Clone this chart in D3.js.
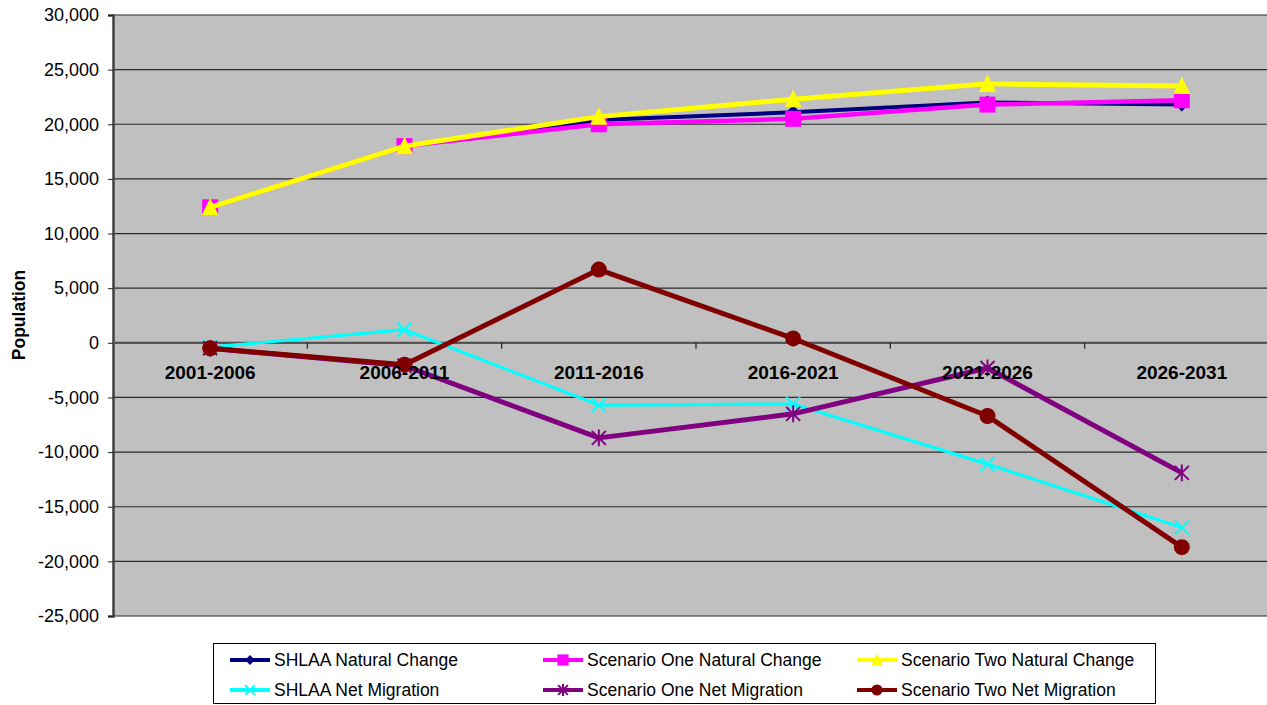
<!DOCTYPE html>
<html>
<head>
<meta charset="utf-8">
<script src="https://cdn.jsdelivr.net/npm/d3@7"></script>
<style>
  body { margin: 0; background: #fff; }
  svg { display: block; font-family: "Liberation Sans", Arial, sans-serif; }
</style>
</head>
<body>
<svg id="chart" width="1267" height="705"></svg>
<script>
const categories = ["2001-2006", "2006-2011", "2011-2016", "2016-2021", "2021-2026", "2026-2031"];
const yTicks = [30000, 25000, 20000, 15000, 10000, 5000, 0, -5000, -10000, -15000, -20000, -25000];

const shlaaNatural   = [12400, 18000, 20400, 21100, 22000, 21800];
const oneNatural     = [12400, 18000, 20000, 20500, 21800, 22200];
const twoNatural     = [12400, 18000, 20700, 22300, 23700, 23500];
const shlaaMigration = [-400, 1200, -5700, -5600, -11100, -16900];
const oneMigration   = [-500, -2100, -8700, -6500, -2300, -11900];
const twoMigration   = [-500, -2000, 6700, 400, -6700, -18700];

const seriesNames = [
  "SHLAA Natural Change", "Scenario One Natural Change", "Scenario Two Natural Change",
  "SHLAA Net Migration", "Scenario One Net Migration", "Scenario Two Net Migration"
];

const series = [
  { name: seriesNames[0], values: shlaaNatural,   color: "#000080", width: 4,   marker: "diamond" },
  { name: seriesNames[1], values: oneNatural,     color: "#FF00FF", width: 4.5, marker: "square" },
  { name: seriesNames[2], values: twoNatural,     color: "#FFFF00", width: 5,   marker: "triangle" },
  { name: seriesNames[3], values: shlaaMigration, color: "#00FFFF", width: 3.2, marker: "x" },
  { name: seriesNames[4], values: oneMigration,   color: "#800080", width: 5,   marker: "star" },
  { name: seriesNames[5], values: twoMigration,   color: "#800000", width: 5,   marker: "circle" },
];

const svg = d3.select("#chart");
const plot = { left: 113, top: 15, right: 1279, bottom: 616 };

const x = d3.scaleBand()
  .domain(categories)
  .range([plot.left, plot.right]);

const y = d3.scaleLinear()
  .domain([-25000, 30000])
  .range([plot.bottom, plot.top]);

const cx = c => x(c) + x.bandwidth() / 2;

// plot background
svg.append("rect")
  .attr("x", plot.left).attr("y", plot.top)
  .attr("width", plot.right - plot.left).attr("height", plot.bottom - plot.top)
  .attr("fill", "#C0C0C0");

// gridlines
svg.append("g")
  .selectAll("line")
  .data(yTicks)
  .join("line")
  .attr("x1", plot.left).attr("x2", plot.right)
  .attr("y1", d => y(d)).attr("y2", d => y(d))
  .attr("stroke", "#2a2a2a")
  .attr("stroke-width", 1.2);

// y axis
const fmt = d => d3.format(",")(d).replace("\u2212", "-");
const yAxis = svg.append("g")
  .attr("transform", `translate(${plot.left},0)`)
  .call(d3.axisLeft(y).tickValues(yTicks).tickFormat(fmt).tickSize(5).tickPadding(9));
yAxis.select(".domain").attr("stroke", "#404040").attr("stroke-width", 2.5);
yAxis.selectAll(".tick line").attr("stroke", "#202020");
yAxis.selectAll("text")
  .attr("font-size", 18)
  .attr("font-family", "Liberation Sans, Arial, sans-serif")
  .attr("fill", "#000");

// x axis at zero
const xAxis = svg.append("g")
  .attr("transform", `translate(0,${y(0)})`);
xAxis.append("line")
  .attr("x1", plot.left).attr("x2", plot.right)
  .attr("stroke", "#505050").attr("stroke-width", 2);
xAxis.selectAll(".tk")
  .data(categories.slice(1))
  .join("line")
  .attr("class", "tk")
  .attr("x1", d => x(d)).attr("x2", d => x(d))
  .attr("y1", 0).attr("y2", 6)
  .attr("stroke", "#202020").attr("stroke-width", 1.2);

// y label
svg.append("text")
  .attr("transform", `translate(25,315) rotate(-90)`)
  .attr("text-anchor", "middle")
  .attr("font-size", 17.5)
  .attr("font-weight", "bold")
  .text("Population");

// markers
function drawMarker(g, type, color, s) {
  if (type === "diamond") {
    g.append("path").attr("d", `M0,${-s}L${s},0L0,${s}L${-s},0Z`).attr("fill", color);
  } else if (type === "square") {
    g.append("rect").attr("x", -s).attr("y", -s).attr("width", 2 * s).attr("height", 2 * s).attr("fill", color);
  } else if (type === "triangle") {
    g.append("path").attr("d", `M0,${-s * 1.1}L${s},${s * 0.95}L${-s},${s * 0.95}Z`).attr("fill", color);
  } else if (type === "x") {
    g.append("path").attr("d", `M${-s},${-s}L${s},${s}M${-s},${s}L${s},${-s}`)
      .attr("stroke", color).attr("stroke-width", 2);
  } else if (type === "star") {
    g.append("path").attr("d", `M${-s},${-s}L${s},${s}M${-s},${s}L${s},${-s}M0,${-s * 1.2}L0,${s * 1.2}`)
      .attr("stroke", color).attr("stroke-width", 2);
  } else if (type === "circle") {
    g.append("circle").attr("r", s).attr("fill", color);
  }
}

const markerSize = { diamond: 7, square: 8, triangle: 8.5, x: 7, star: 7, circle: 8 };

const line = d3.line()
  .x((d, i) => cx(categories[i]))
  .y(d => y(d));

series.forEach(s => {
  const g = svg.append("g");
  g.append("path")
    .attr("d", line(s.values))
    .attr("fill", "none")
    .attr("stroke", s.color)
    .attr("stroke-width", s.width)
    .attr("stroke-linejoin", "round");
  s.values.forEach((v, i) => {
    const m = g.append("g").attr("transform", `translate(${cx(categories[i])},${y(v)})`);
    drawMarker(m, s.marker, s.color, markerSize[s.marker]);
  });
});

// category labels
svg.append("g")
  .selectAll("text")
  .data(categories)
  .join("text")
  .attr("x", d => cx(d))
  .attr("y", 379)
  .attr("text-anchor", "middle")
  .attr("font-size", 19)
  .attr("font-weight", "bold")
  .text(d => d);

// legend
const legend = svg.append("g");
legend.append("rect")
  .attr("x", 213.5).attr("y", 643.5)
  .attr("width", 942).attr("height", 60)
  .attr("fill", "#fff")
  .attr("stroke", "#000").attr("stroke-width", 1);

const colX = [230, 543, 857];
const rowY = [660, 690];
series.forEach((s, i) => {
  const lx = colX[i % 3];
  const ly = rowY[Math.floor(i / 3)];
  const g = legend.append("g");
  g.append("line")
    .attr("x1", lx).attr("x2", lx + 40)
    .attr("y1", ly).attr("y2", ly)
    .attr("stroke", s.color)
    .attr("stroke-width", 4);
  const m = g.append("g").attr("transform", `translate(${lx + 20},${ly})`);
  drawMarker(m, s.marker, s.color, markerSize[s.marker] * 0.7);
  g.append("text")
    .attr("x", lx + 44)
    .attr("y", ly + 6)
    .attr("font-size", 17.5)
    .text(s.name);
});
</script>
</body>
</html>
